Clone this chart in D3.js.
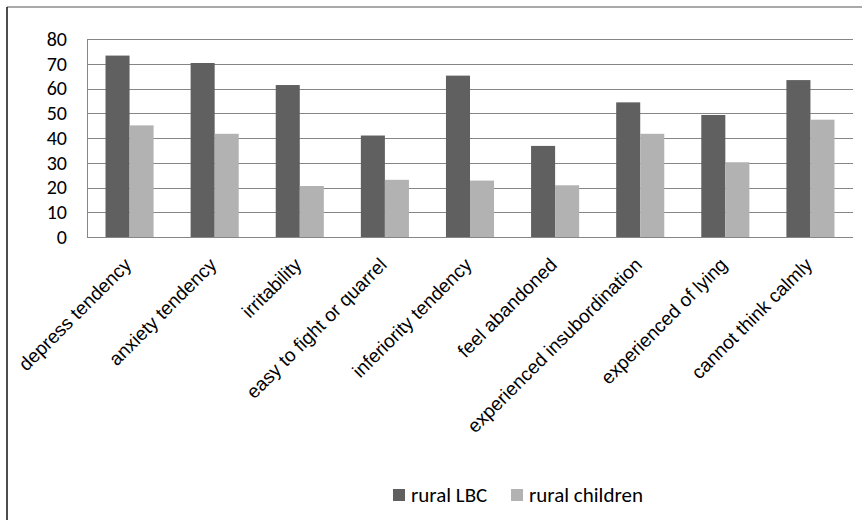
<!DOCTYPE html>
<html>
<head>
<meta charset="utf-8">
<script src="https://cdn.jsdelivr.net/npm/d3@7/dist/d3.min.js"></script>
<style>
  html, body { margin: 0; padding: 0; background: #fff; }
  svg { display: block; }
</style>
</head>
<body>
<svg id="chart" width="862" height="520"></svg>
<script>
// Problem behaviours, rural left-behind children vs. other rural children (%)
const categories = [
  "depress tendency", "anxiety tendency", "irritability", "easy to fight or quarrel",
  "inferiority tendency", "feel abandoned", "experienced insubordination",
  "experienced of lying", "cannot think calmly"
];
const seriesNames = ["rural LBC", "rural children"];
const ruralLBC      = [73.3, 70.3, 61.4, 41.0, 65.2, 36.8, 54.4, 49.3, 63.4];
const ruralChildren = [45.1, 41.7, 20.6, 23.1, 22.8, 20.9, 41.7, 30.2, 47.4];
const yTicks = [0, 10, 20, 30, 40, 50, 60, 70, 80];

const colors = ["#606060", "#b2b2b2"];
const labelFont = "Carlito, Lato, 'Open Sans', sans-serif";
const catFont = "'Liberation Sans', Arial, sans-serif";

const svg = d3.select("#chart");

// Chart frame (right and bottom edges run off the canvas)
svg.append("line").attr("x1", 7).attr("y1", 7).attr("x2", 862).attr("y2", 7)
  .attr("stroke", "#555").attr("stroke-width", 1.2);
svg.append("line").attr("x1", 7).attr("y1", 7).attr("x2", 7).attr("y2", 520)
  .attr("stroke", "#222").attr("stroke-width", 1.6);

const plot = { left: 87, right: 853, top: 39, bottom: 237 };

const x0 = d3.scaleBand().domain(categories).range([plot.left, plot.right]).paddingInner(0.435).paddingOuter(0.2175);
const x1 = d3.scaleBand().domain(seriesNames).range([0, x0.bandwidth()]);
const y = d3.scaleLinear().domain([0, 80]).range([plot.bottom, plot.top]);

// Gridlines
svg.append("g").selectAll("line").data(yTicks.filter(t => t > 0)).join("line")
  .attr("x1", plot.left).attr("x2", plot.right)
  .attr("y1", d => Math.round(y(d)) + 0.5).attr("y2", d => Math.round(y(d)) + 0.5)
  .attr("stroke", "#868686").attr("stroke-width", 1);

// Bars
const rows = categories.map((c, i) => ({ cat: c, vals: [ruralLBC[i], ruralChildren[i]] }));
const groups = svg.append("g").selectAll("g").data(rows).join("g")
  .attr("transform", d => `translate(${x0(d.cat)},0)`);
groups.selectAll("rect").data(d => d.vals.map((v, j) => ({ name: seriesNames[j], v, j }))).join("rect")
  .attr("x", d => x1(d.name))
  .attr("width", x1.bandwidth())
  .attr("y", d => y(d.v))
  .attr("height", d => y(0) - y(d.v))
  .attr("fill", d => colors[d.j]);

// Axis lines
svg.append("line").attr("x1", plot.left + 0.5).attr("x2", plot.left + 0.5)
  .attr("y1", plot.top).attr("y2", plot.bottom + 1)
  .attr("stroke", "#868686").attr("stroke-width", 1);
svg.append("line").attr("x1", plot.left).attr("x2", plot.right)
  .attr("y1", plot.bottom + 0.5).attr("y2", plot.bottom + 0.5)
  .attr("stroke", "#868686").attr("stroke-width", 1);

// Y axis labels
const yAxis = d3.axisLeft(y).tickValues(yTicks).tickSize(0).tickPadding(20).tickFormat(d3.format("d"));
const yg = svg.append("g").attr("transform", `translate(${plot.left},0)`).call(yAxis);
yg.select(".domain").remove();
yg.selectAll("text").attr("font-family", labelFont).attr("font-size", 20).attr("fill", "#000");

// Category labels, rotated
const xAxis = d3.axisBottom(x0).tickSize(0).tickPadding(0);
const xg = svg.append("g").attr("transform", `translate(0,${plot.bottom})`).call(xAxis);
xg.select(".domain").remove();
xg.selectAll(".tick text")
  .attr("font-family", catFont).attr("font-size", 19).attr("fill", "#000")
  .attr("text-anchor", "end")
  .attr("dy", 0).attr("y", 0)
  .attr("transform", "translate(3,29) rotate(-45)");

// Legend
const legend = svg.append("g").attr("transform", "translate(393,489)");
const items = [{ name: seriesNames[0], x: 0, c: colors[0] }, { name: seriesNames[1], x: 118, c: colors[1] }];
const li = legend.selectAll("g").data(items).join("g").attr("transform", d => `translate(${d.x},0)`);
li.append("rect").attr("width", 12).attr("height", 12).attr("fill", d => d.c);
li.append("text").attr("x", 18).attr("y", 12.5).text(d => d.name)
  .attr("font-family", labelFont).attr("font-size", 21).attr("fill", "#000");
</script>
</body>
</html>
